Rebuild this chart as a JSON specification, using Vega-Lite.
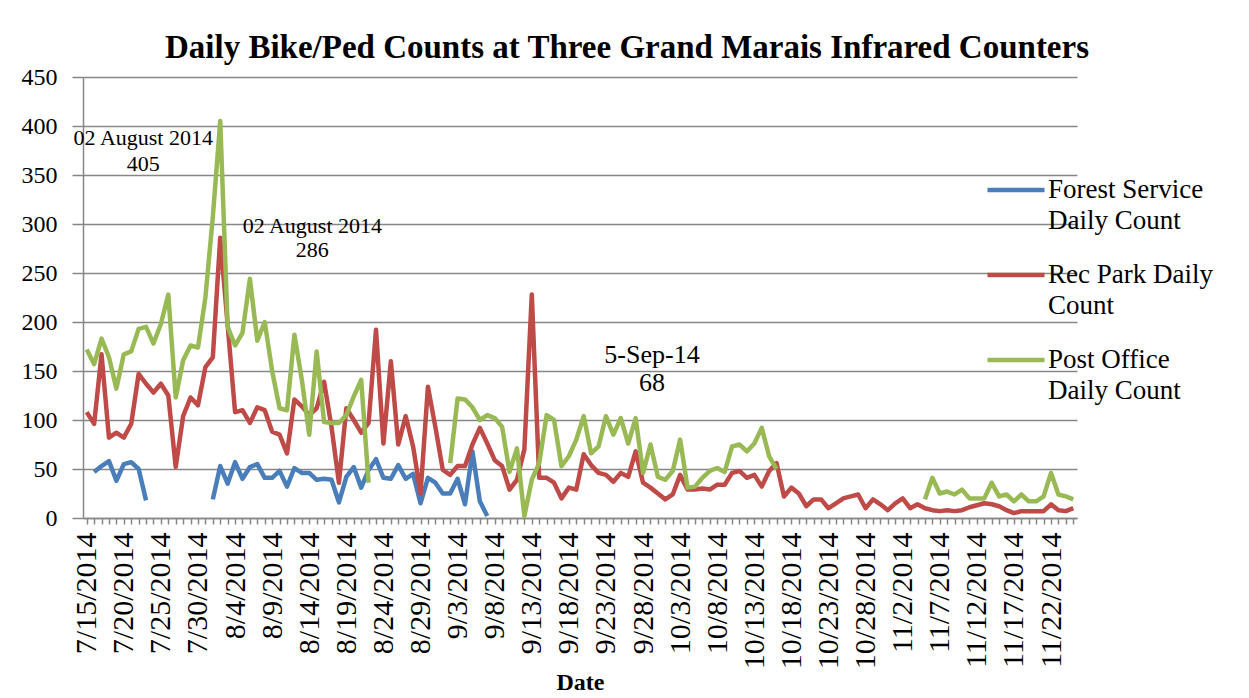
{
  "$schema": "https://vega.github.io/schema/vega-lite/v6.json",
  "width": 994,
  "height": 441,
  "autosize": "none",
  "padding": {"left": 83, "top": 77, "right": 172, "bottom": 180},
  "background": "white",
  "title": {
    "text": "Daily Bike/Ped  Counts at Three Grand Marais Infrared Counters",
    "font": "Liberation Serif",
    "fontSize": 33,
    "fontWeight": "bold",
    "color": "black",
    "anchor": "middle",
    "dx": 47,
    "offset": 0
  },
  "config": {"view": {"stroke": null}, "font": "Liberation Serif"},
  "datasets": {
    "counts": [
      {"date":"2014-07-15T00:00:00","fs":null,"rp":108,"po":172},
      {"date":"2014-07-16T00:00:00","fs":47,"rp":96,"po":157},
      {"date":"2014-07-17T00:00:00","fs":53,"rp":167,"po":183},
      {"date":"2014-07-18T00:00:00","fs":58,"rp":82,"po":164},
      {"date":"2014-07-19T00:00:00","fs":38,"rp":87,"po":132},
      {"date":"2014-07-20T00:00:00","fs":55,"rp":82,"po":167},
      {"date":"2014-07-21T00:00:00","fs":57,"rp":96,"po":170},
      {"date":"2014-07-22T00:00:00","fs":50,"rp":147,"po":193},
      {"date":"2014-07-23T00:00:00","fs":18,"rp":137,"po":195},
      {"date":"2014-07-24T00:00:00","fs":null,"rp":128,"po":178},
      {"date":"2014-07-25T00:00:00","fs":null,"rp":137,"po":198},
      {"date":"2014-07-26T00:00:00","fs":null,"rp":125,"po":228},
      {"date":"2014-07-27T00:00:00","fs":null,"rp":52,"po":123},
      {"date":"2014-07-28T00:00:00","fs":null,"rp":104,"po":161},
      {"date":"2014-07-29T00:00:00","fs":null,"rp":123,"po":176},
      {"date":"2014-07-30T00:00:00","fs":null,"rp":115,"po":174},
      {"date":"2014-07-31T00:00:00","fs":null,"rp":154,"po":225},
      {"date":"2014-08-01T00:00:00","fs":19,"rp":164,"po":307},
      {"date":"2014-08-02T00:00:00","fs":53,"rp":286,"po":405},
      {"date":"2014-08-03T00:00:00","fs":35,"rp":197,"po":195},
      {"date":"2014-08-04T00:00:00","fs":57,"rp":108,"po":176},
      {"date":"2014-08-05T00:00:00","fs":40,"rp":110,"po":189},
      {"date":"2014-08-06T00:00:00","fs":52,"rp":97,"po":244},
      {"date":"2014-08-07T00:00:00","fs":55,"rp":113,"po":181},
      {"date":"2014-08-08T00:00:00","fs":41,"rp":110,"po":200},
      {"date":"2014-08-09T00:00:00","fs":41,"rp":88,"po":150},
      {"date":"2014-08-10T00:00:00","fs":48,"rp":85,"po":112},
      {"date":"2014-08-11T00:00:00","fs":32,"rp":66,"po":110},
      {"date":"2014-08-12T00:00:00","fs":51,"rp":121,"po":187},
      {"date":"2014-08-13T00:00:00","fs":46,"rp":114,"po":141},
      {"date":"2014-08-14T00:00:00","fs":46,"rp":105,"po":85},
      {"date":"2014-08-15T00:00:00","fs":39,"rp":112,"po":170},
      {"date":"2014-08-16T00:00:00","fs":40,"rp":139,"po":98},
      {"date":"2014-08-17T00:00:00","fs":39,"rp":93,"po":97},
      {"date":"2014-08-18T00:00:00","fs":16,"rp":36,"po":97},
      {"date":"2014-08-19T00:00:00","fs":42,"rp":112,"po":105},
      {"date":"2014-08-20T00:00:00","fs":52,"rp":100,"po":124},
      {"date":"2014-08-21T00:00:00","fs":31,"rp":87,"po":141},
      {"date":"2014-08-22T00:00:00","fs":49,"rp":97,"po":36},
      {"date":"2014-08-23T00:00:00","fs":60,"rp":192,"po":null},
      {"date":"2014-08-24T00:00:00","fs":41,"rp":76,"po":null},
      {"date":"2014-08-25T00:00:00","fs":40,"rp":160,"po":null},
      {"date":"2014-08-26T00:00:00","fs":54,"rp":75,"po":null},
      {"date":"2014-08-27T00:00:00","fs":40,"rp":104,"po":null},
      {"date":"2014-08-28T00:00:00","fs":45,"rp":73,"po":null},
      {"date":"2014-08-29T00:00:00","fs":15,"rp":25,"po":null},
      {"date":"2014-08-30T00:00:00","fs":41,"rp":134,"po":null},
      {"date":"2014-08-31T00:00:00","fs":36,"rp":93,"po":null},
      {"date":"2014-09-01T00:00:00","fs":25,"rp":49,"po":null},
      {"date":"2014-09-02T00:00:00","fs":25,"rp":44,"po":56},
      {"date":"2014-09-03T00:00:00","fs":40,"rp":53,"po":122},
      {"date":"2014-09-04T00:00:00","fs":14,"rp":53,"po":121},
      {"date":"2014-09-05T00:00:00","fs":68,"rp":75,"po":113},
      {"date":"2014-09-06T00:00:00","fs":17,"rp":92,"po":100},
      {"date":"2014-09-07T00:00:00","fs":2,"rp":76,"po":105},
      {"date":"2014-09-08T00:00:00","fs":null,"rp":59,"po":102},
      {"date":"2014-09-09T00:00:00","fs":null,"rp":53,"po":93},
      {"date":"2014-09-10T00:00:00","fs":null,"rp":29,"po":47},
      {"date":"2014-09-11T00:00:00","fs":null,"rp":39,"po":71},
      {"date":"2014-09-12T00:00:00","fs":null,"rp":70,"po":2},
      {"date":"2014-09-13T00:00:00","fs":null,"rp":228,"po":39},
      {"date":"2014-09-14T00:00:00","fs":null,"rp":41,"po":56},
      {"date":"2014-09-15T00:00:00","fs":null,"rp":41,"po":105},
      {"date":"2014-09-16T00:00:00","fs":null,"rp":36,"po":100},
      {"date":"2014-09-17T00:00:00","fs":null,"rp":20,"po":53},
      {"date":"2014-09-18T00:00:00","fs":null,"rp":31,"po":63},
      {"date":"2014-09-19T00:00:00","fs":null,"rp":29,"po":80},
      {"date":"2014-09-20T00:00:00","fs":null,"rp":65,"po":104},
      {"date":"2014-09-21T00:00:00","fs":null,"rp":54,"po":66},
      {"date":"2014-09-22T00:00:00","fs":null,"rp":46,"po":73},
      {"date":"2014-09-23T00:00:00","fs":null,"rp":44,"po":104},
      {"date":"2014-09-24T00:00:00","fs":null,"rp":37,"po":85},
      {"date":"2014-09-25T00:00:00","fs":null,"rp":46,"po":102},
      {"date":"2014-09-26T00:00:00","fs":null,"rp":42,"po":76},
      {"date":"2014-09-27T00:00:00","fs":null,"rp":68,"po":102},
      {"date":"2014-09-28T00:00:00","fs":null,"rp":36,"po":46},
      {"date":"2014-09-29T00:00:00","fs":null,"rp":31,"po":75},
      {"date":"2014-09-30T00:00:00","fs":null,"rp":25,"po":42},
      {"date":"2014-10-01T00:00:00","fs":null,"rp":19,"po":39},
      {"date":"2014-10-02T00:00:00","fs":null,"rp":24,"po":48},
      {"date":"2014-10-03T00:00:00","fs":null,"rp":44,"po":80},
      {"date":"2014-10-04T00:00:00","fs":null,"rp":29,"po":31},
      {"date":"2014-10-05T00:00:00","fs":null,"rp":29,"po":32},
      {"date":"2014-10-06T00:00:00","fs":null,"rp":30,"po":41},
      {"date":"2014-10-07T00:00:00","fs":null,"rp":29,"po":48},
      {"date":"2014-10-08T00:00:00","fs":null,"rp":34,"po":51},
      {"date":"2014-10-09T00:00:00","fs":null,"rp":34,"po":47},
      {"date":"2014-10-10T00:00:00","fs":null,"rp":46,"po":73},
      {"date":"2014-10-11T00:00:00","fs":null,"rp":48,"po":75},
      {"date":"2014-10-12T00:00:00","fs":null,"rp":41,"po":68},
      {"date":"2014-10-13T00:00:00","fs":null,"rp":44,"po":76},
      {"date":"2014-10-14T00:00:00","fs":null,"rp":32,"po":92},
      {"date":"2014-10-15T00:00:00","fs":null,"rp":48,"po":63},
      {"date":"2014-10-16T00:00:00","fs":null,"rp":56,"po":50},
      {"date":"2014-10-17T00:00:00","fs":null,"rp":22,"po":null},
      {"date":"2014-10-18T00:00:00","fs":null,"rp":31,"po":null},
      {"date":"2014-10-19T00:00:00","fs":null,"rp":25,"po":null},
      {"date":"2014-10-20T00:00:00","fs":null,"rp":12,"po":null},
      {"date":"2014-10-21T00:00:00","fs":null,"rp":19,"po":null},
      {"date":"2014-10-22T00:00:00","fs":null,"rp":19,"po":null},
      {"date":"2014-10-23T00:00:00","fs":null,"rp":10,"po":null},
      {"date":"2014-10-24T00:00:00","fs":null,"rp":15,"po":null},
      {"date":"2014-10-25T00:00:00","fs":null,"rp":20,"po":null},
      {"date":"2014-10-26T00:00:00","fs":null,"rp":22,"po":null},
      {"date":"2014-10-27T00:00:00","fs":null,"rp":24,"po":null},
      {"date":"2014-10-28T00:00:00","fs":null,"rp":10,"po":null},
      {"date":"2014-10-29T00:00:00","fs":null,"rp":19,"po":null},
      {"date":"2014-10-30T00:00:00","fs":null,"rp":14,"po":null},
      {"date":"2014-10-31T00:00:00","fs":null,"rp":8,"po":null},
      {"date":"2014-11-01T00:00:00","fs":null,"rp":15,"po":null},
      {"date":"2014-11-02T00:00:00","fs":null,"rp":20,"po":null},
      {"date":"2014-11-03T00:00:00","fs":null,"rp":10,"po":null},
      {"date":"2014-11-04T00:00:00","fs":null,"rp":14,"po":null},
      {"date":"2014-11-05T00:00:00","fs":null,"rp":10,"po":19},
      {"date":"2014-11-06T00:00:00","fs":null,"rp":8,"po":41},
      {"date":"2014-11-07T00:00:00","fs":null,"rp":7,"po":25},
      {"date":"2014-11-08T00:00:00","fs":null,"rp":8,"po":27},
      {"date":"2014-11-09T00:00:00","fs":null,"rp":7,"po":24},
      {"date":"2014-11-10T00:00:00","fs":null,"rp":8,"po":29},
      {"date":"2014-11-11T00:00:00","fs":null,"rp":11,"po":20},
      {"date":"2014-11-12T00:00:00","fs":null,"rp":13,"po":20},
      {"date":"2014-11-13T00:00:00","fs":null,"rp":15,"po":20},
      {"date":"2014-11-14T00:00:00","fs":null,"rp":14,"po":36},
      {"date":"2014-11-15T00:00:00","fs":null,"rp":12,"po":22},
      {"date":"2014-11-16T00:00:00","fs":null,"rp":8,"po":24},
      {"date":"2014-11-17T00:00:00","fs":null,"rp":5,"po":17},
      {"date":"2014-11-18T00:00:00","fs":null,"rp":7,"po":24},
      {"date":"2014-11-19T00:00:00","fs":null,"rp":7,"po":17},
      {"date":"2014-11-20T00:00:00","fs":null,"rp":7,"po":17},
      {"date":"2014-11-21T00:00:00","fs":null,"rp":7,"po":22},
      {"date":"2014-11-22T00:00:00","fs":null,"rp":14,"po":46},
      {"date":"2014-11-23T00:00:00","fs":null,"rp":8,"po":24},
      {"date":"2014-11-24T00:00:00","fs":null,"rp":7,"po":22},
      {"date":"2014-11-25T00:00:00","fs":null,"rp":10,"po":19}
    ],
    "notesSmall": [
      {"date":"2014-07-22T15:00:00","count":388,"label":"02 August 2014"},
      {"date":"2014-07-22T15:00:00","count":361,"label":"405"},
      {"date":"2014-08-14T10:00:00","count":298,"label":"02 August 2014"},
      {"date":"2014-08-14T10:00:00","count":273,"label":"286"}
    ],
    "notesLarge": [
      {"date":"2014-09-29T05:00:00","count":166,"label":"5-Sep-14"},
      {"date":"2014-09-29T05:00:00","count":138,"label":"68"}
    ]
  },
  "layer": [
    {
      "data": {"name": "counts"},
      "transform": [{"fold": ["fs", "rp", "po"], "as": ["series", "count"]}],
      "mark": {"type": "line", "strokeWidth": 4.5, "invalid": "break-paths-show-domains", "strokeJoin": "round"},
      "encoding": {
        "x": {
          "field": "date",
          "type": "temporal",
          "scale": {"domain": [{"year": 2014, "month": 7, "date": 14, "hours": 12}, {"year": 2014, "month": 11, "date": 25, "hours": 12}]},
          "axis": {
            "title": "Date",
            "titleFont": "Liberation Serif",
            "titleFontSize": 24,
            "titleFontWeight": "bold",
            "titleColor": "black",
            "titlePadding": 2,
            "tickCount": {"interval": "day", "step": 1},
            "labelExpr": "(round((datum.value - datetime(2014, 6, 15)) / 86400000) % 5 == 0) ? timeFormat(datum.value, '%-m/%-d/%Y') : ''",
            "labelAngle": 270,
            "labelFont": "Liberation Serif",
            "labelFontSize": 30,
            "labelColor": "black",
            "labelOverlap": false,
            "labelFlush": false,
            "labelBound": false,
            "labelPadding": 8,
            "grid": false,
            "tickSize": 6,
            "tickColor": "#878787",
            "tickWidth": 1.5,
            "domainColor": "#878787",
            "domainWidth": 1.5
          }
        },
        "y": {
          "field": "count",
          "type": "quantitative",
          "scale": {"domain": [0, 450]},
          "axis": {
            "title": null,
            "values": [0, 50, 100, 150, 200, 250, 300, 350, 400, 450],
            "grid": true,
            "gridColor": "#878787",
            "gridWidth": 1.5,
            "domainColor": "#878787",
            "domainWidth": 1.5,
            "tickColor": "#878787",
            "tickWidth": 1.5,
            "tickSize": 11,
            "labelFont": "Liberation Serif",
            "labelFontSize": 24,
            "labelColor": "black",
            "labelPadding": 15
          }
        },
        "color": {
          "field": "series",
          "type": "nominal",
          "scale": {"domain": ["fs", "rp", "po"], "range": ["#4A7EBB", "#BE4B48", "#98B954"]},
          "legend": {
            "orient": "none",
            "legendX": 902,
            "legendY": 82,
            "title": null,
            "symbolType": "stroke",
            "symbolSize": 3249,
            "symbolStrokeWidth": 4.5,
            "labelFont": "Liberation Serif",
            "labelFontSize": 27,
            "labelColor": "black",
            "labelLimit": 300,
            "labelOffset": 1,
            "rowPadding": 10,
            "labelExpr": "datum.label == 'fs' ? ['Forest Service', 'Daily Count'] : datum.label == 'rp' ? ['Rec Park Daily', 'Count'] : ['Post Office', 'Daily Count']",
            "encode": {"labels": {"update": {"lineHeight": {"value": 31}}}}
          }
        }
      }
    },
    {
      "data": {"name": "notesSmall"},
      "mark": {"type": "text", "font": "Liberation Serif", "fontSize": 22, "color": "black", "align": "center", "baseline": "middle"},
      "encoding": {
        "x": {"field": "date", "type": "temporal"},
        "y": {"field": "count", "type": "quantitative"},
        "text": {"field": "label"}
      }
    },
    {
      "data": {"name": "notesLarge"},
      "mark": {"type": "text", "font": "Liberation Serif", "fontSize": 26, "color": "black", "align": "center", "baseline": "middle"},
      "encoding": {
        "x": {"field": "date", "type": "temporal"},
        "y": {"field": "count", "type": "quantitative"},
        "text": {"field": "label"}
      }
    }
  ]
}
